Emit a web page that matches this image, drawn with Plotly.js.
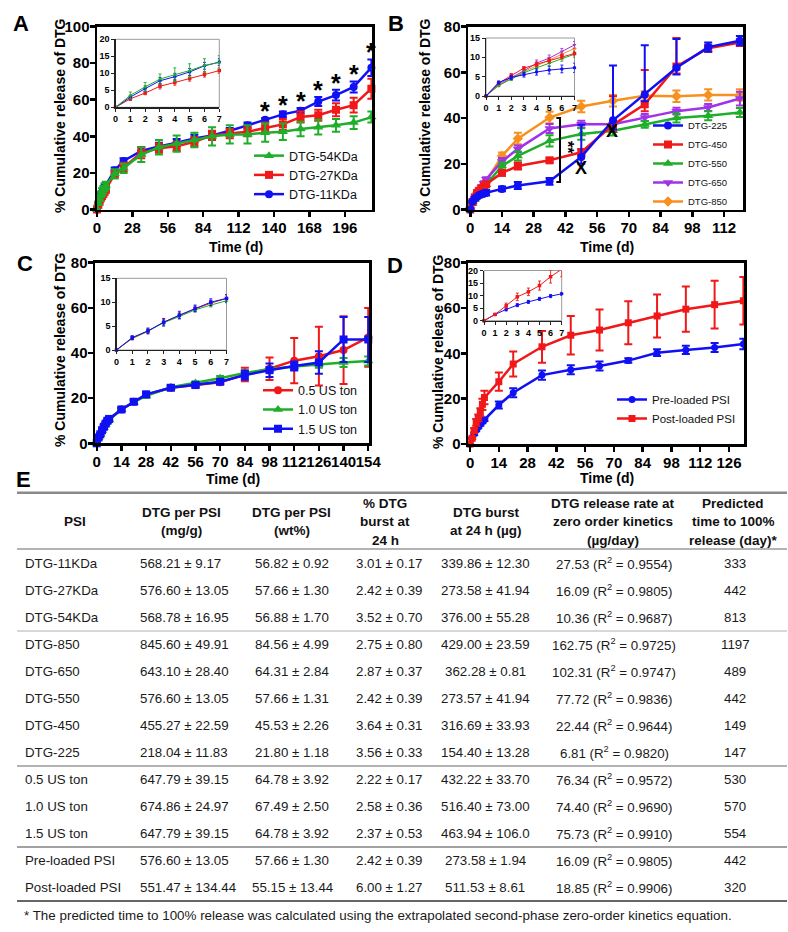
<!DOCTYPE html>
<html><head><meta charset="utf-8">
<script src="https://cdn.plot.ly/plotly-3.0.1.min.js"></script>
<style>html,body{margin:0;padding:0;background:#fff}#chart{width:788px;height:932px}</style>
</head><body><div id="chart"></div>
<script>
const W=788,H=932,FONT='"Liberation Sans", Arial, Helvetica, sans-serif';
const fx=p=>p/W, fy=p=>1-p/H;

// ---------- Panel A: molecular weight ----------
const daysA=[0,1,2,3,4,5,6,7,14,21,35,49,63,77,91,105,119,133,147,161,175,189,203,217];
const relA11=[0,3.0,5.5,7.8,9.0,10.4,12.2,13.3,21.5,26.5,32.0,34.5,36.5,38.8,40.5,43.0,46.0,49.0,52.0,54.0,59.0,62.5,67.0,77.5];
const errA11=[0,0.5,0.8,1.0,1.0,1.0,1.0,1.0,1.5,1.5,2.0,2.0,2.0,2.0,2.0,1.5,1.5,1.0,1.5,1.5,2.5,3.0,3.0,4.5];
const relA27=[0,2.5,4.2,6.2,7.3,8.5,9.7,10.8,19.5,23.0,31.0,33.5,34.5,37.0,40.5,41.5,42.5,44.5,46.5,50.5,51.5,54.5,57.0,66.0];
const errA27=[0,0.5,0.5,0.8,0.8,0.8,0.8,0.8,2.0,2.5,3.0,2.5,2.5,2.5,2.5,2.5,2.5,3.0,3.0,3.0,3.0,3.5,4.0,5.5];
const relA54=[0,3.5,6.0,8.3,9.6,10.8,12.3,13.2,19.5,22.5,30.0,34.0,36.0,38.0,40.0,41.0,41.0,42.0,42.5,44.0,45.0,46.0,47.5,50.5];
const errA54=[0,1.0,1.3,1.5,2.0,2.0,2.0,2.0,2.5,2.5,4.0,4.0,4.5,4.0,5.0,5.0,5.0,5.0,4.5,4.0,4.0,3.5,3.5,3.0];
const sigDaysA=[133,147,161,175,189,203,217];
const ticksAx=[0,28,56,84,112,140,168,196];
const ticksAy=[0,20,40,60,80,100];

// ---------- Panel B: drug loading ----------
const daysB=[0,1,2,3,4,5,6,7,14,21,35,49,63,77,91,105,119];
const relB225=[0,3.5,4.8,5.5,6.2,6.7,7.0,7.3,9.0,10.5,12.3,23.0,39.0,50.3,62.0,71.0,73.8];
const errB225up=[0,0.4,0.5,0.6,0.8,1.0,1.0,1.2,1.0,1.5,1.5,14.0,24.0,21.5,12.5,2.0,2.0];
const errB225dn=[0,0.4,0.5,0.6,0.8,1.0,1.0,1.2,1.0,1.5,1.5,3.0,4.0,3.0,3.0,2.0,2.0];
const relB450=[0,3.3,5.3,7.2,8.2,9.2,10.2,11.0,16.0,19.0,21.5,25.0,37.0,46.0,62.5,70.5,73.0];
const errB450up=[0,0.3,0.5,0.4,0.6,0.6,0.6,0.6,1.0,1.5,1.0,1.5,12.5,15.0,12.5,1.5,1.5];
const errB450dn=[0,0.3,0.5,0.4,0.6,0.6,0.6,0.6,1.0,1.5,1.0,1.5,3.0,3.0,3.0,1.5,1.5];
const relB550=[0,2.7,4.4,6.0,7.3,8.5,9.7,10.8,19.0,23.4,30.0,33.0,34.4,37.2,40.0,41.0,42.4];
const errB550=[0,0.3,0.4,0.5,0.6,0.7,0.7,0.8,1.5,2.0,2.5,2.5,2.0,1.5,2.0,2.0,2.0];
const relB650=[0,3.0,4.8,6.5,8.5,9.8,11.5,13.2,21.0,26.5,35.4,37.3,37.3,40.2,43.0,44.6,48.5];
const errB650=[0,0.3,0.4,0.5,0.8,0.8,0.8,0.9,1.5,1.5,2.0,1.5,1.5,1.5,1.5,1.5,3.0];
const relB850=[0,2.8,4.5,6.3,7.8,9.3,10.8,12.3,23.4,31.0,40.2,45.0,47.5,49.7,49.5,50.1,50.1];
const errB850=[0,0.3,0.4,0.5,0.6,0.7,0.8,0.9,1.5,2.5,2.5,2.5,2.5,2.0,2.5,2.5,2.5];
const ticksBx=[0,14,28,42,56,70,84,98,112];
const ticksBy=[0,20,40,60,80];

// ---------- Panel C: compression ----------
const daysC=[0,1,2,3,4,5,6,7,14,21,28,42,56,70,84,98,112,126,140,154];
const relC05=[0,2.4,3.9,5.8,7.2,8.6,9.8,10.8,15.0,18.4,21.5,24.6,25.8,27.0,30.5,33.0,36.6,38.6,41.3,46.9];
const errC05=[0,0.3,0.5,0.6,0.6,0.6,0.6,0.7,0.8,1.0,1.0,1.0,1.0,1.0,3.0,5.0,10.0,13.0,15.0,13.0];
const relC10=[0,2.5,4.0,5.7,7.0,8.4,9.4,10.3,15.0,18.2,21.0,24.8,26.7,28.8,31.2,32.8,34.0,35.0,35.8,36.5];
const errC10=[0,0.3,0.4,0.4,0.4,0.4,0.4,0.4,0.6,0.8,0.8,0.8,0.8,1.0,1.0,1.0,1.5,1.5,2.0,2.0];
const relC15=[0,2.6,4.0,5.8,7.3,8.7,10.0,10.8,15.0,18.4,21.7,24.6,25.8,27.3,30.2,32.4,34.2,35.8,46.0,46.0];
const errC15=[0,0.4,0.6,0.8,0.8,0.7,0.7,0.8,0.8,1.0,1.0,1.0,1.0,1.0,2.0,3.0,2.0,5.0,10.0,10.0];
const ticksCx=[0,14,28,42,56,70,84,98,112,126,140,154];
const ticksCy=[0,20,40,60,80];

// ---------- Panel D: loading method ----------
const daysD=[0,1,2,3,4,5,6,7,14,21,35,49,63,77,91,105,119,133];
const relDpre=[0,2.5,4.5,6.2,7.5,8.7,9.8,10.7,17.2,22.6,30.4,32.8,34.4,36.8,40.3,41.5,42.6,44.1];
const errDpre=[0,0.3,0.6,0.6,0.6,0.6,0.6,0.6,1.5,2.0,2.0,2.0,2.0,1.0,1.5,1.8,2.0,2.3];
const relDpost=[0,2.5,6.0,9.5,11.5,14.0,17.5,20.5,27.5,35.3,42.9,48.0,50.3,53.5,56.5,59.5,61.5,63.2];
const errDpost=[0,0.3,1.0,1.5,1.5,1.8,2.5,3.0,4.0,5.5,7.0,8.5,9.0,9.5,9.5,10.0,10.5,10.5];
const ticksDx=[0,14,28,42,56,70,84,98,112,126];
const ticksDy=[0,20,40,60,80];

const ticksInsetX=[0,1,2,3,4,5,6,7];
const ticksInset20=[0,5,10,15,20];
const ticksInset15=[0,5,10,15];

// ---------- Table E ----------
const tableHeaders=["PSI","DTG per PSI<br>(mg/g)","DTG per PSI<br>(wt%)","% DTG<br>burst at<br>24 h","DTG burst<br>at 24 h (µg)","DTG release rate at<br>zero order kinetics<br>(µg/day)","Predicted<br>time to 100%<br>release (day)*"];
const psiNames=["DTG-11KDa","DTG-27KDa","DTG-54KDa","DTG-850","DTG-650","DTG-550","DTG-450","DTG-225","0.5 US ton","1.0 US ton","1.5 US ton","Pre-loaded PSI","Post-loaded PSI"];
const dtgMgPerG=["568.21 ± 9.17","576.60 ± 13.05","568.78 ± 16.95","845.60 ± 49.91","643.10 ± 28.40","576.60 ± 13.05","455.27 ± 22.59","218.04 ± 11.83","647.79 ± 39.15","674.86 ± 24.97","647.79 ± 39.15","576.60 ± 13.05","551.47 ± 134.44"];
const dtgWtPct=["56.82 ± 0.92","57.66 ± 1.30","56.88 ± 1.70","84.56 ± 4.99","64.31 ± 2.84","57.66 ± 1.31","45.53 ± 2.26","21.80 ± 1.18","64.78 ± 3.92","67.49 ± 2.50","64.78 ± 3.92","57.66 ± 1.30","55.15 ± 13.44"];
const burstPct=["3.01 ± 0.17","2.42 ± 0.39","3.52 ± 0.70","2.75 ± 0.80","2.87 ± 0.37","2.42 ± 0.39","3.64 ± 0.31","3.56 ± 0.33","2.22 ± 0.17","2.58 ± 0.36","2.37 ± 0.53","2.42 ± 0.39","6.00 ± 1.27"];
const burstUg=["339.86 ± 12.30","273.58 ± 41.94","376.00 ± 55.28","429.00 ± 23.59","362.28 ± 0.81","273.57 ± 41.94","316.69 ± 33.93","154.40 ± 13.28","432.22 ± 33.70","516.40 ± 73.00","463.94 ± 106.0","273.58 ± 1.94","511.53 ± 8.61"];
const zeroOrderRate=["27.53","16.09","10.36","162.75","102.31","77.72","22.44","6.81","76.34","74.40","75.73","16.09","18.85"];
const zeroOrderR2=["0.9554","0.9805","0.9687","0.9725","0.9747","0.9836","0.9644","0.9820","0.9572","0.9690","0.9910","0.9805","0.9906"];
const predictedDays=["333","442","813","1197","489","442","149","147","530","570","554","442","320"];
const groupEnds=[2,7,10];
const footnote="* The predicted time to 100% release was calculated using the extrapolated second-phase zero-order kinetics equation.";

// ---------- colours ----------
const BLUE='#1010f5',RED='#f01818',GREEN='#1fae2a',PURPLE='#a033e8',ORANGE='#f7901e';

const traces=[];
function addSeries(days,vals,errUp,errDn,name,color,symbol,xa,ya,legend,inset,size){
  let x=days,y=vals,eu=errUp,ed=errDn||errUp;
  if(inset){
    const idx=days.map((d,i)=>i).filter(i=>days[i]<=7);
    x=idx.map(i=>days[i]);y=idx.map(i=>vals[i]);eu=idx.map(i=>eu[i]);ed=idx.map(i=>ed[i]);
  }
  traces.push({
    type:'scatter',mode:'lines+markers',x,y,name,xaxis:xa,yaxis:ya,
    legend:legend,showlegend:!inset,cliponaxis:false,
    line:{color,width:inset?1:2.5},
    marker:{color,symbol,size:inset?3.5:(size||8),line:{width:0}},
    error_y:{type:'data',array:eu,arrayminus:ed,symmetric:false,visible:true,color,thickness:inset?0.9:2,width:inset?1.5:4}
  });
}
// A
addSeries(daysA,relA11,errA11,null,'DTG-11KDa',BLUE,'circle','x','y','legend',false);
addSeries(daysA,relA27,errA27,null,'DTG-27KDa',RED,'square','x','y','legend',false);
addSeries(daysA,relA54,errA54,null,'DTG-54KDa',GREEN,'triangle-up','x','y','legend',false,9);
addSeries(daysA,relA27,errA27,null,'DTG-27KDa',RED,'square','x5','y5','legend',true);
addSeries(daysA,relA11,errA11,null,'DTG-11KDa',BLUE,'circle','x5','y5','legend',true);
addSeries(daysA,relA54,errA54,null,'DTG-54KDa',GREEN,'triangle-up','x5','y5','legend',true);
// B
addSeries(daysB,relB850,errB850,null,'DTG-850',ORANGE,'diamond','x2','y2','legend2',false);
addSeries(daysB,relB650,errB650,null,'DTG-650',PURPLE,'triangle-down','x2','y2','legend2',false,9);
addSeries(daysB,relB550,errB550,null,'DTG-550',GREEN,'triangle-up','x2','y2','legend2',false,9);
addSeries(daysB,relB450,errB450up,errB450dn,'DTG-450',RED,'square','x2','y2','legend2',false);
addSeries(daysB,relB225,errB225up,errB225dn,'DTG-225',BLUE,'circle','x2','y2','legend2',false);
addSeries(daysB,relB850,errB850,null,'DTG-850',ORANGE,'diamond','x6','y6','legend2',true);
addSeries(daysB,relB650,errB650,null,'DTG-650',PURPLE,'triangle-down','x6','y6','legend2',true);
addSeries(daysB,relB550,errB550,null,'DTG-550',GREEN,'triangle-up','x6','y6','legend2',true);
addSeries(daysB,relB450,errB450up,errB450dn,'DTG-450',RED,'square','x6','y6','legend2',true);
addSeries(daysB,relB225,errB225up,errB225dn,'DTG-225',BLUE,'circle','x6','y6','legend2',true);
// C
addSeries(daysC,relC05,errC05,null,'0.5 US ton',RED,'circle','x3','y3','legend3',false);
addSeries(daysC,relC10,errC10,null,'1.0 US ton',GREEN,'triangle-up','x3','y3','legend3',false,9);
addSeries(daysC,relC15,errC15,null,'1.5 US ton',BLUE,'square','x3','y3','legend3',false);
addSeries(daysC,relC05,errC05,null,'0.5 US ton',RED,'circle','x7','y7','legend3',true);
addSeries(daysC,relC10,errC10,null,'1.0 US ton',GREEN,'triangle-up','x7','y7','legend3',true);
addSeries(daysC,relC15,errC15,null,'1.5 US ton',BLUE,'square','x7','y7','legend3',true);
// D
addSeries(daysD,relDpre,errDpre,null,'Pre-loaded PSI',BLUE,'circle','x4','y4','legend4',false,7);
addSeries(daysD,relDpost,errDpost,null,'Post-loaded PSI',RED,'square','x4','y4','legend4',false,7);
addSeries(daysD,relDpre,errDpre,null,'Pre-loaded PSI',BLUE,'circle','x8','y8','legend4',true);
addSeries(daysD,relDpost,errDpost,null,'Post-loaded PSI',RED,'square','x8','y8','legend4',true);

function mainAx(dom,range,ticks,anchor,isX){
  return {domain:isX?[fx(dom[0]),fx(dom[1])]:[fy(dom[1]),fy(dom[0])],range,anchor,
    tickmode:'array',tickvals:ticks,ticktext:ticks.map(String),tickangle:0,ticklabelstandoff:isX?-2:-3,
    showline:true,linecolor:'#000',linewidth:2.5,mirror:true,ticks:'outside',ticklen:5,tickwidth:2.5,tickcolor:'#000',
    showgrid:false,zeroline:false,fixedrange:true,
    tickfont:{family:FONT,size:15,weight:'bold',color:'#000'}};
}
function insetAx(dom,range,ticks,anchor,isX){
  return {domain:isX?[fx(dom[0]),fx(dom[1])]:[fy(dom[1]),fy(dom[0])],range,anchor,
    tickmode:'array',tickvals:ticks,ticktext:ticks.map(String),tickangle:0,
    showline:true,linecolor:'#222',linewidth:1.2,mirror:false,ticks:'outside',ticklen:3,tickwidth:1,tickcolor:'#222',
    showgrid:false,zeroline:false,fixedrange:true,
    tickfont:{family:FONT,size:9,weight:'bold',color:'#000'}};
}

const annotations=[];
function ann(x,y,text,o){annotations.push(Object.assign({xref:'paper',yref:'paper',x:fx(x),y:fy(y),text,showarrow:false,xanchor:'center',yanchor:'middle',font:{family:FONT,size:13,color:'#000'}},o||{}));}

// panel letters
[['A',20.5,23],['B',396,23],['C',24.5,264],['D',395,265],['E',23.5,479]].forEach(p=>ann(p[1],p[2],p[0],{font:{family:FONT,size:22,weight:'bold',color:'#000'}}));
// axis titles
const ytitle='% Cumulative release of DTG';
[[60,116],[425,116],[60,350],[438,351]].forEach(p=>ann(p[0],p[1],ytitle,{textangle:-90,font:{family:FONT,size:14,weight:'bold',color:'#000'}}));
[[235.5,247.3],[606.5,246.7],[233,479.3],[606.5,478]].forEach(p=>ann(p[0],p[1],'Time (d)',{font:{family:FONT,size:14,weight:'bold',color:'#000'}}));

// significance stars on A
sigDaysA.forEach(d=>{const i=daysA.indexOf(d);
  annotations.push({xref:'x',yref:'y',x:d,y:relA11[i]+errA11[i],xanchor:'center',yanchor:'bottom',yshift:-9,text:'*',showarrow:false,font:{family:FONT,size:25,weight:'bold',color:'#000'}});});
// B markers
annotations.push({xref:'x2',yref:'y2',x:42.6,y:27.0,xanchor:'center',yanchor:'middle',textangle:90,text:'**',showarrow:false,font:{family:FONT,size:16,weight:'bold',color:'#000'}});
annotations.push({xref:'x2',yref:'y2',x:48.8,y:18.2,xanchor:'center',yanchor:'middle',text:'X',showarrow:false,font:{family:FONT,size:18,weight:'bold',color:'#000'}});
annotations.push({xref:'x2',yref:'y2',x:62.7,y:34.3,xanchor:'center',yanchor:'middle',text:'X',showarrow:false,font:{family:FONT,size:18,weight:'bold',color:'#000'}});

// Table
const colHeadX=[75,181.7,291.7,385,486,613,733];
const colDataX=[23,138.3,292,389,485,614,735];
const headerCY=521.7, headerStep=18.3, rowY0=563.5, rowStep=27.0;
tableHeaders.forEach((h,c)=>{const lines=h.split('<br>');lines.forEach((t,i)=>{
  ann(colHeadX[c],headerCY+(i-(lines.length-1)/2)*headerStep,t,{font:{family:FONT,size:13.5,weight:'bold',color:'#111'}});});});
const cols=[psiNames,dtgMgPerG,dtgWtPct,burstPct,burstUg,zeroOrderRate.map((r,i)=>r+' (R<sup>2</sup> = '+zeroOrderR2[i]+')'),predictedDays];
cols.forEach((col,c)=>col.forEach((t,r)=>{
  ann(colDataX[c],rowY0+r*rowStep,t,{xanchor:c<2?'left':'center',font:{family:FONT,size:13.3,color:'#1a1a1a'}});}));
ann(22,915,footnote,{xanchor:'left',font:{family:FONT,size:13.4,color:'#1a1a1a'}});

const shapes=[];
function hline(y,c,w){shapes.push({type:'line',xref:'paper',yref:'paper',x0:fx(17),x1:fx(787),y0:fy(y),y1:fy(y),line:{color:c,width:w}});}
hline(492.7,'#8a8a8a',2.5);
hline(549,'#9a9a9a',1.5);
hline(rowY0+(groupEnds[0]+0.5)*rowStep,'#b0b0b0',1);
hline(rowY0+(groupEnds[1]+0.5)*rowStep,'#9a9a9a',1.6);
hline(rowY0+(groupEnds[2]+0.5)*rowStep,'#444',1.2);
hline(rowY0+(psiNames.length-0.5)*rowStep,'#333',1.3);
// inset frames
['5','6','7','8'].forEach(n=>shapes.push({type:'rect',xref:'x'+n+' domain',yref:'y'+n+' domain',x0:0,x1:1,y0:0,y1:1,line:{color:'#9a9a9a',width:1},layer:'below'}));
// bracket in B
shapes.push({type:'path',xref:'x2',yref:'y2',path:'M38,40 L39.6,40 L39.6,12 L38,12',line:{color:'#000',width:2}});

const legBase={bgcolor:'rgba(0,0,0,0)',borderwidth:0,xanchor:'left',yanchor:'top',itemwidth:30,tracegroupgap:0};
const layout={
  width:W,height:H,margin:{l:0,r:0,t:0,b:0},paper_bgcolor:'#fff',plot_bgcolor:'rgba(0,0,0,0)',
  font:{family:FONT,color:'#000'},showlegend:true,
  xaxis:mainAx([97,372],[0,217.5],ticksAx,'y',true), yaxis:mainAx([26.5,209.5],[0,100],ticksAy,'x',false),
  xaxis2:mainAx([468,743.3],[-1,120.5],ticksBx,'y2',true), yaxis2:mainAx([26.5,209.5],[0,80],ticksBy,'x2',false),
  xaxis3:mainAx([95,369.3],[-1,154.6],ticksCx,'y3',true), yaxis3:mainAx([262.7,443.3],[0,80],ticksCy,'x3',false),
  xaxis4:mainAx([468,744],[-1,133.3],ticksDx,'y4',true), yaxis4:mainAx([262.7,444],[0,80],ticksDy,'x4',false),
  xaxis5:insetAx([115.5,219.3],[0,7],ticksInsetX,'y5',true), yaxis5:insetAx([39.3,107.3],[0,20],ticksInset20,'x5',false),
  xaxis6:insetAx([486,574.5],[0,7],ticksInsetX,'y6',true), yaxis6:insetAx([38,96],[0,15],ticksInset15,'x6',false),
  xaxis7:insetAx([116.5,226.5],[0,7],ticksInsetX,'y7',true), yaxis7:insetAx([278.3,350],[0,15],ticksInset15,'x7',false),
  xaxis8:insetAx([484,561.7],[0,7],ticksInsetX,'y8',true), yaxis8:insetAx([270.5,320.7],[0,20],ticksInset20,'x8',false),
  legend:Object.assign({},legBase,{x:fx(249),y:fy(141),traceorder:'reversed',font:{family:FONT,size:12.5,color:'#111'}}),
  legend2:Object.assign({},legBase,{x:fx(648),y:fy(111),traceorder:'reversed',font:{family:FONT,size:9.5,color:'#111'}}),
  legend3:Object.assign({},legBase,{x:fx(258),y:fy(375.5),traceorder:'normal',font:{family:FONT,size:12.5,color:'#111'}}),
  legend4:Object.assign({},legBase,{x:fx(612),y:fy(385),traceorder:'normal',font:{family:FONT,size:11.5,color:'#111'}}),
  annotations,shapes
};
Plotly.newPlot('chart',traces,layout,{staticPlot:true,displayModeBar:false});
</script></body></html>
